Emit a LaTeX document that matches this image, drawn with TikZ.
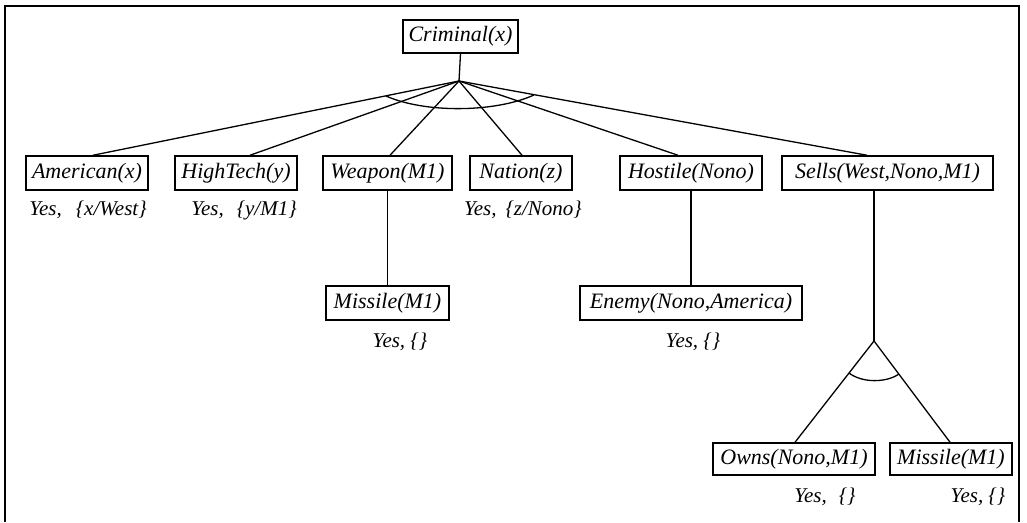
\documentclass[tikz,border=0pt]{standalone}
\usepackage{fontspec}
\setmainfont{Liberation Serif}
\usetikzlibrary{calc}
\begin{document}
\begin{tikzpicture}[x=1pt,y=-1pt,
  goal/.style={draw, line width=1.5pt, rectangle, minimum height=34pt, inner sep=0pt,
               font=\fontsize{22}{26}\selectfont\itshape},
  ans/.style={inner sep=0pt, font=\fontsize{21}{25}\selectfont\itshape},
  link/.style={line width=1.3pt},
  andarc/.style={line width=1.3pt}]
\useasboundingbox (0,0) rectangle (1027,522);
% open frame around the proof tree
\draw[line width=1.8pt] (5,522) -- (5,6) -- (1019,6) -- (1019,522);

% goal nodes
\node[goal, minimum width=115pt, minimum height=33pt] (crim) at (460.5,36.5) {Criminal(x)};

\node[goal, minimum width=122pt] (amer)  at (87,173)    {American(x)};
\node[goal, minimum width=122pt] (high)  at (236,173)   {HighTech(y)};
\node[goal, minimum width=129pt] (weap)  at (387.5,173) {Weapon(M1)};
\node[goal, minimum width=102pt] (nat)   at (521,173)   {Nation(z)};
\node[goal, minimum width=142pt] (host)  at (691,173)   {Hostile(Nono)};
\node[goal, minimum width=211pt] (sells) at (887.5,173) {Sells(West,Nono,M1)};

\node[goal, minimum width=123pt] (miss)  at (387.5,303) {Missile(M1)};
\node[goal, minimum width=222pt] (enemy) at (691,303)   {Enemy(Nono,America)};

\node[goal, minimum width=162pt, minimum height=32pt] (owns)  at (794,459) {Owns(Nono,M1)};
\node[goal, minimum width=122pt, minimum height=32pt] (miss2) at (951,459) {Missile(M1)};

% answers
\node[ans] (amerY)  at (88,210)  {Yes,\hspace{14pt}\{x/West\}};
\node[ans] (highY)  at (244,210) {Yes,\hspace{13pt}\{y/M1\}};
\node[ans] (natY)   at (523,210) {Yes,\hspace{9pt}\{z/Nono\}};
\node[ans] (missY)  at (400,342) {Yes, \{\}};
\node[ans] (enemyY) at (693,342) {Yes, \{\}};
\node[ans] (ownsY)  at (825,497) {Yes,\hspace{12pt}\{\}};
\node[ans] (miss2Y) at (978,497) {Yes, \{\}};

% conjunction of the top rule
\coordinate (hub) at (459,81);
\draw[link] (crim.south) -- (hub);
\draw[link] (hub) -- ([xshift=6pt]amer.north);
\draw[link] (hub) -- ([xshift=14pt]high.north);
\draw[link] (hub) -- ([xshift=2.5pt]weap.north);
\draw[link] (hub) -- ([xshift=1pt]nat.north);
\draw[link] (hub) -- ([xshift=-13pt]host.north);
\draw[link] (hub) -- ([xshift=-20.5pt]sells.north);
\draw[andarc] ($(hub)+(-73,15)$) .. controls ($(hub)+(-35,32)$) and ($(hub)+(35,32)$) .. ($(hub)+(75,14)$);

% single-premise rules
\draw[link] (weap.south) -- (miss.north);
\draw[link] (host.south) -- (enemy.north);

% conjunction under Sells
\coordinate (and) at (874,341);
\draw[link] (sells.south -| and) -- (and);
\draw[link] (and) -- ([xshift=1pt]owns.north);
\draw[link] (and) -- ([xshift=-1pt]miss2.north);
\draw[andarc] ($(and)+(-25,32)$) .. controls ($(and)+(-12,42)$) and ($(and)+(12,42)$) .. ($(and)+(25,33)$);
\end{tikzpicture}
\end{document}
